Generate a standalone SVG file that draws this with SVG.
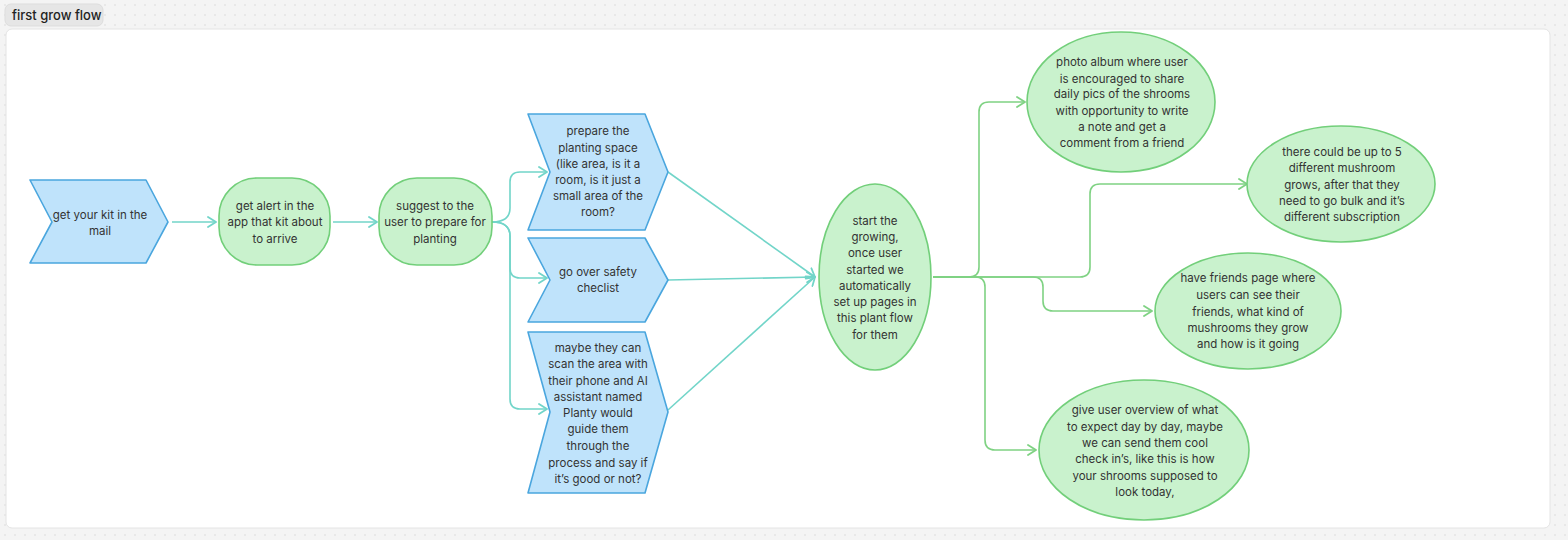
<svg xmlns="http://www.w3.org/2000/svg" width="1568" height="540" viewBox="0 0 1568 540">
<defs>
<pattern id="dots" width="10" height="10" patternUnits="userSpaceOnUse">
<circle cx="5" cy="5" r="0.7" fill="#d2d2d2"/>
</pattern>
<marker id="ah-t" viewBox="0 0 12 12" refX="11" refY="6" markerWidth="12" markerHeight="12" markerUnits="userSpaceOnUse" orient="auto">
<path d="M3,1 L11,6 L3,11" fill="none" stroke="#72d5c9" stroke-width="1.8" stroke-linecap="round" stroke-linejoin="round"/>
</marker>
<marker id="ah-g" viewBox="0 0 12 12" refX="11" refY="6" markerWidth="12" markerHeight="12" markerUnits="userSpaceOnUse" orient="auto">
<path d="M3,1 L11,6 L3,11" fill="none" stroke="#7fd283" stroke-width="1.8" stroke-linecap="round" stroke-linejoin="round"/>
</marker>
</defs>
<style>
text{font-family:Inter,"Noto Sans","Liberation Sans",sans-serif;font-size:11.5px;fill:#333;text-anchor:middle}
.blue{fill:#bfe3fb;stroke:#4aa6de;stroke-width:1.6;stroke-linejoin:round}
.green{fill:#c9f2cd;stroke:#72cf7a;stroke-width:1.6}
.ct{fill:none;stroke:#72d5c9;stroke-width:1.6;marker-end:url(#ah-t)}
.cg{fill:none;stroke:#7fd283;stroke-width:1.6;marker-end:url(#ah-g)}
.title{font-size:13px;font-weight:500;text-anchor:start;fill:#222}
</style>
<rect width="1568" height="540" fill="#f4f4f4"/>
<rect width="1568" height="540" fill="url(#dots)"/>
<rect x="6" y="29" width="1544" height="499" rx="6" fill="#ffffff" stroke="#e4e4e4"/>
<g id="title">
<rect x="5" y="4" width="98" height="22" rx="6" fill="#e6e6e6" stroke="#dddddd"/>
<text class="title" x="12" y="19.5">first grow flow</text>
</g>
<g id="connectors">
<path class="ct" d="M172,222 H216"/>
<path class="ct" d="M333,222 H377"/>
<path class="ct" d="M492,222 C503,222 510,218 510,208 V182 Q510,172 520,172 H547"/>
<path class="ct" d="M492,222 C503,222 510,226 510,236 V268 Q510,278 520,278 H547"/>
<path class="ct" d="M492,222 C503,222 510,226 510,236 V399 Q510,409 520,409 H547"/>
<path class="ct" d="M668,172 L815,277"/>
<path class="ct" d="M668,280 L815,277"/>
<path class="ct" d="M668,410 L815,277"/>
<path class="cg" d="M933,277 H969 Q979,277 979,267 V112 Q979,102 989,102 H1025"/>
<path class="cg" d="M933,277 H1080 Q1090,277 1090,267 V194 Q1090,184 1100,184 H1247"/>
<path class="cg" d="M933,277 H1033 Q1043,277 1043,287 V301 Q1043,311 1053,311 H1152"/>
<path class="cg" d="M933,277 H975 Q985,277 985,287 V440 Q985,450 995,450 H1036"/>
</g>
<g id="n1">
<polygon class="blue" points="30,180 146,180 168,222 146,263 30,263 52,222"/>
<text x="100" y="219">get your kit in the</text>
<text x="100" y="235">mail</text>
</g>
<g id="n2">
<rect class="green" x="219" y="178" width="111" height="87" rx="38"/>
<text x="275" y="210">get alert in the</text>
<text x="275" y="226">app that kit about</text>
<text x="275" y="243">to arrive</text>
</g>
<g id="n3">
<rect class="green" x="379" y="178" width="113" height="87" rx="38"/>
<text x="435" y="210">suggest to the</text>
<text x="435" y="226">user to prepare for</text>
<text x="435" y="243">planting</text>
</g>
<g id="n4">
<polygon class="blue" points="528,114 645,114 668,172 645,230 528,230 550,172"/>
<text x="598" y="135">prepare the</text>
<text x="598" y="152">planting space</text>
<text x="598" y="168">(like area, is it a</text>
<text x="598" y="184">room, is it just a</text>
<text x="598" y="200">small area of the</text>
<text x="598" y="216">room?</text>
</g>
<g id="n5">
<polygon class="blue" points="528,238 645,238 668,280 645,322 528,322 550,280"/>
<text x="598" y="276">go over safety</text>
<text x="598" y="292">checlist</text>
</g>
<g id="n6">
<polygon class="blue" points="528,332 645,332 668,412 645,493 528,493 550,412"/>
<text x="598" y="352">maybe they can</text>
<text x="598" y="368">scan the area with</text>
<text x="598" y="385">their phone and AI</text>
<text x="598" y="401">assistant named</text>
<text x="598" y="417">Planty would</text>
<text x="598" y="433">guide them</text>
<text x="598" y="450">through the</text>
<text x="598" y="467">process and say if</text>
<text x="598" y="483">it’s good or not?</text>
</g>
<g id="n7">
<ellipse class="green" cx="875" cy="277" rx="56" ry="93"/>
<text x="875" y="225">start the</text>
<text x="875" y="241">growing,</text>
<text x="875" y="257">once user</text>
<text x="875" y="274">started we</text>
<text x="875" y="290">automatically</text>
<text x="875" y="306">set up pages in</text>
<text x="875" y="322">this plant flow</text>
<text x="875" y="339">for them</text>
</g>
<g id="n8">
<ellipse class="green" cx="1121" cy="102" rx="94" ry="70"/>
<text x="1122" y="66">photo album where user</text>
<text x="1122" y="83">is encouraged to share</text>
<text x="1122" y="98">daily pics of the shrooms</text>
<text x="1122" y="115">with opportunity to write</text>
<text x="1122" y="131">a note and get a</text>
<text x="1122" y="147">comment from a friend</text>
</g>
<g id="n9">
<ellipse class="green" cx="1341" cy="184" rx="94" ry="58"/>
<text x="1342" y="156">there could be up to 5</text>
<text x="1342" y="172">different mushroom</text>
<text x="1342" y="189">grows, after that they</text>
<text x="1342" y="205">need to go bulk and it’s</text>
<text x="1342" y="221">different subscription</text>
</g>
<g id="n10">
<ellipse class="green" cx="1248" cy="311" rx="93" ry="58"/>
<text x="1248" y="282">have friends page where</text>
<text x="1248" y="299">users can see their</text>
<text x="1248" y="316">friends, what kind of</text>
<text x="1248" y="332">mushrooms they grow</text>
<text x="1248" y="348">and how is it going</text>
</g>
<g id="n11">
<ellipse class="green" cx="1144" cy="450" rx="105" ry="70"/>
<text x="1145" y="414">give user overview of what</text>
<text x="1145" y="431">to expect day by day, maybe</text>
<text x="1145" y="447">we can send them cool</text>
<text x="1145" y="463">check in’s, like this is how</text>
<text x="1145" y="480">your shrooms supposed to</text>
<text x="1145" y="496">look today,</text>
</g>
</svg>
